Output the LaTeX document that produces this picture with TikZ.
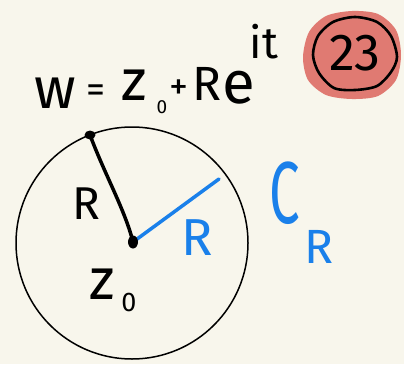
\documentclass[tikz,border=0pt]{standalone}
\usepackage{fontspec}
\usepackage{graphicx}
\setmainfont{Fira Sans}
\definecolor{bg}{HTML}{F8F6EC}
\definecolor{pen}{HTML}{1A80EA}
\definecolor{blob}{HTML}{E07A72}
\newcommand{\fs}[1]{\fontsize{#1}{#1}\selectfont}
\begin{document}
\begin{tikzpicture}[x=1pt,y=-1pt,
  lbl/.style={inner sep=0pt, anchor=center},
  ink/.style={line width=3.5pt, line cap=round, line join=round}]
\fill[bg] (0,0) rectangle (404,364);
\useasboundingbox (0,0) rectangle (404,364);

% formula
\node[lbl] (fw) at (55,93) {\fs{58}w};
\node[lbl] (feq) at (96,94) {\fs{38}=};
\node[lbl] (fz) at (134,85) {\fs{58}z};
\node[lbl] (fzero) at (162,107) {\fs{19}0};
\node[lbl] (fplus) at (179,90) {\fs{38}+};
\node[lbl] (fR) at (207,84) {\fs{48}R};
\node[lbl] (fe) at (239,88) {\fs{60}e};
\node[lbl] (fit) at (264,42) {\fs{44}it};

% badge
\fill[blob] plot[smooth cycle] coordinates {(401,55) (396,80) (378,96) (352,99) (326,95) (308,80) (303,57) (309,32) (326,16) (352,11) (378,14) (396,30)};
\draw[line width=2.6pt, line join=round] plot[smooth cycle] coordinates {(397,57) (391,72) (377,86) (355,90) (334,88) (319,73) (313,55) (318,36) (333,22) (355,17) (377,22) (391,36)};
\node[lbl] (num) at (355,53) {\fs{52}23};

% circle
\coordinate (c) at (132,243);
\draw[line width=1.5pt] (c) circle (116);
\coordinate (z0) at (133,242);
\coordinate (w) at (90,135);
\coordinate (b) at (219,179);
\draw[ink] (w) .. controls (105,175) and (125,210) .. (z0);
\draw[ink, pen] (z0) -- (b);
\fill (w) ellipse (5.5 and 4.5);
\fill (z0) ellipse (5 and 6.5);

\node[lbl] (rb) at (86,204) {\fs{46}R};
\node[lbl, text=pen] (rblue) at (197,238) {\fs{52}R};
\node[lbl] (lz) at (102,284) {\fs{58}z};
\node[lbl] (lzero) at (129,302) {\fs{27}0};
\node[lbl, text=pen] (lc) at (285,193) {\fs{88}\scalebox{0.62}[1]{C}};
\node[lbl, text=pen] (lr) at (319,247) {\fs{48}R};
\end{tikzpicture}
\end{document}
